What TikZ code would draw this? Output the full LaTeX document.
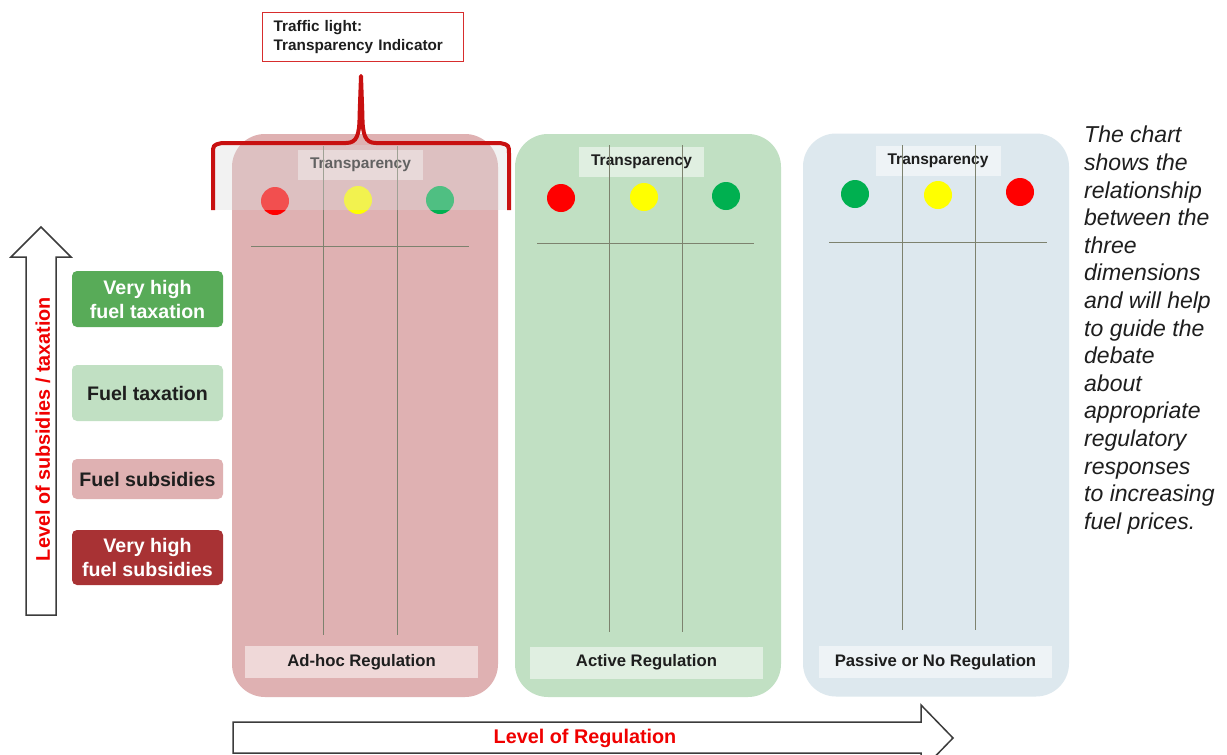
\documentclass[tikz,border=0pt]{standalone}
\usepackage{fontspec}
\setmainfont{Liberation Sans}
\definecolor{panelred}{RGB}{223,177,178}
\definecolor{panelgreen}{RGB}{193,224,195}
\definecolor{panelblue}{RGB}{221,232,238}
\definecolor{darkgreen}{RGB}{88,171,88}
\definecolor{darkred}{RGB}{168,50,52}
\definecolor{lineol}{RGB}{125,130,110}
\definecolor{txt}{RGB}{30,30,30}
\definecolor{bracered}{RGB}{200,16,16}
\definecolor{boxred}{RGB}{215,45,45}
\definecolor{arrowgray}{RGB}{60,60,60}
\definecolor{lightred}{RGB}{255,0,0}
\definecolor{lightyellow}{RGB}{255,255,0}
\definecolor{lightgreen}{RGB}{0,176,80}
\definecolor{ovlcol}{RGB}{220,220,220}
\definecolor{labelred}{RGB}{240,0,0}
\begin{document}
\begin{tikzpicture}[x=1pt,y=-1pt,
  panel/.style={rounded corners=33pt, minimum width=266pt, minimum height=563pt, inner sep=0pt, draw=none},
  vline/.style={draw=lineol, line width=0.9pt},
  tlabel/.style={fill=white, fill opacity=0.5, text opacity=1, minimum width=125pt, minimum height=30pt, inner sep=0pt, font=\fontsize{15.5}{18}\selectfont\bfseries, text=txt},
  blabel/.style={fill=white, fill opacity=0.5, text opacity=1, minimum width=233pt, minimum height=32pt, inner sep=0pt, font=\fontsize{16.7}{19}\selectfont\bfseries, text=txt},
  light/.style={circle, minimum size=28pt, inner sep=0pt},
  legend/.style={rounded corners=5pt, minimum width=151pt, inner sep=0pt, align=center, font=\fontsize{19.6}{24}\selectfont\bfseries},
  bigarrow/.style={draw=arrowgray, line width=1.5pt, fill=white, line join=miter},
  axislabel/.style={text=labelred, font=\fontsize{19.8}{22}\selectfont\bfseries}
]
\useasboundingbox (0,0) rectangle (1227,755);
\clip (0,0) rectangle (1227,755);
\fill[white] (0,0) rectangle (1227,755);

% panels
\node[panel, fill=panelred] (pr) at (365,415.5) {};
\node[panel, fill=panelgreen] (pg) at (648,415.5) {};
\node[panel, fill=panelblue] (pb) at (936,415) {};

% bottom labels
\node[blabel] (br) at (361.5,662) {Ad-hoc Regulation};
\node[blabel] (bg) at (646.5,662.5) {Active Regulation};
\node[blabel] (bb) at (935.5,662) {Passive or No Regulation};

% transparency labels
\node[tlabel] (tr) at (360.5,165) {Transparency};
\node[tlabel] (tg) at (641.5,162) {Transparency};
\node[tlabel] (tb) at (938,161) {Transparency};

% grid lines
\coordinate (r1t) at (323,146); \coordinate (r1b) at (323,635);
\coordinate (r2t) at (397,146); \coordinate (r2b) at (397,635);
\coordinate (rhl) at (251,246); \coordinate (rhr) at (469,246);
\draw[vline] (r1t) -- (r1b);
\draw[vline] (r2t) -- (r2b);
\draw[vline] (rhl) -- (rhr);
\coordinate (g1t) at (609,145); \coordinate (g1b) at (609,632);
\coordinate (g2t) at (682,145); \coordinate (g2b) at (682,632);
\coordinate (ghl) at (537,243); \coordinate (ghr) at (754,243);
\draw[vline] (g1t) -- (g1b);
\draw[vline] (g2t) -- (g2b);
\draw[vline] (ghl) -- (ghr);
\coordinate (b1t) at (902,145); \coordinate (b1b) at (902,630);
\coordinate (b2t) at (975,145); \coordinate (b2b) at (975,630);
\coordinate (bhl) at (829,242); \coordinate (bhr) at (1047,242);
\draw[vline] (b1t) -- (b1b);
\draw[vline] (b2t) -- (b2b);
\draw[vline] (bhl) -- (bhr);

% traffic lights
\node[light, fill=lightred] (rr) at (275,201) {};
\node[light, fill=lightyellow] (ry) at (358,200) {};
\node[light, fill=lightgreen] (rg) at (440,200) {};
\node[light, fill=lightred] (gr) at (561,198) {};
\node[light, fill=lightyellow] (gy) at (644,197) {};
\node[light, fill=lightgreen] (gg) at (726,196) {};
\node[light, fill=lightgreen] (bg2) at (855,194) {};
\node[light, fill=lightyellow] (by) at (938,195) {};
\node[light, fill=lightred] (br2) at (1020,192) {};

% translucent overlay under brace
\fill[ovlcol, fill opacity=0.36] (213,145) rectangle (510,210);

% brace
\draw[bracered, line width=4pt, line join=round, line cap=butt]
  (213,210) -- (213,154) .. controls (213,145) .. (222,143) -- (346,143)
  .. controls (357,143) and (359.5,135) .. (359.6,115) -- (361,76)
  -- (362.4,115) .. controls (362.5,135) and (365,143) .. (376,143)
  -- (500,143) .. controls (509,145) .. (509,154) -- (509,210);

% traffic light box
\node[draw=boxred, line width=1.4pt, fill=white, anchor=north west, minimum height=49pt,
      text width=179pt, inner xsep=11pt, inner ysep=0pt, align=left,
      font=\fontsize{15.3}{19}\selectfont\bfseries, text=txt] (tl) at (262,12)
  {Traffic light:\\Transparency Indicator};

% legend boxes
\node[legend, fill=darkgreen, text=white, minimum height=56pt] (l1) at (147.5,299) {Very high\\fuel taxation};
\node[legend, fill=panelgreen, text=txt, minimum height=56pt] (l2) at (147.5,393) {Fuel taxation};
\node[legend, fill=panelred, text=txt, minimum height=40pt] (l3) at (147.5,479) {Fuel subsidies};
\node[legend, fill=darkred, text=white, minimum height=55pt] (l4) at (147.5,557.5) {Very high\\fuel subsidies};

% vertical arrow
\draw[bigarrow] (26,615) -- (26,257) -- (11,257) -- (41,227) -- (71,257) -- (56,257) -- (56,615) -- cycle;
\node[axislabel, rotate=90] (va) at (43,429) {Level of subsidies / taxation};

% horizontal arrow
\draw[bigarrow] (233,722) -- (921,722) -- (921,705) -- (953,738) -- (921,771) -- (921,753) -- (233,753) -- cycle;
\node[axislabel] (ha) at (585,738) {Level of Regulation};

% right text
\node[anchor=north west, inner sep=0pt, align=left, text=txt,
      font=\fontsize{23}{27.6}\selectfont\itshape] (rt) at (1084,126)
  {The chart\\shows the\\relationship\\between the\\three\\dimensions\\and will help\\to guide the\\debate\\about\\appropriate\\regulatory\\responses\\to increasing\\fuel prices.};
\end{tikzpicture}
\end{document}
